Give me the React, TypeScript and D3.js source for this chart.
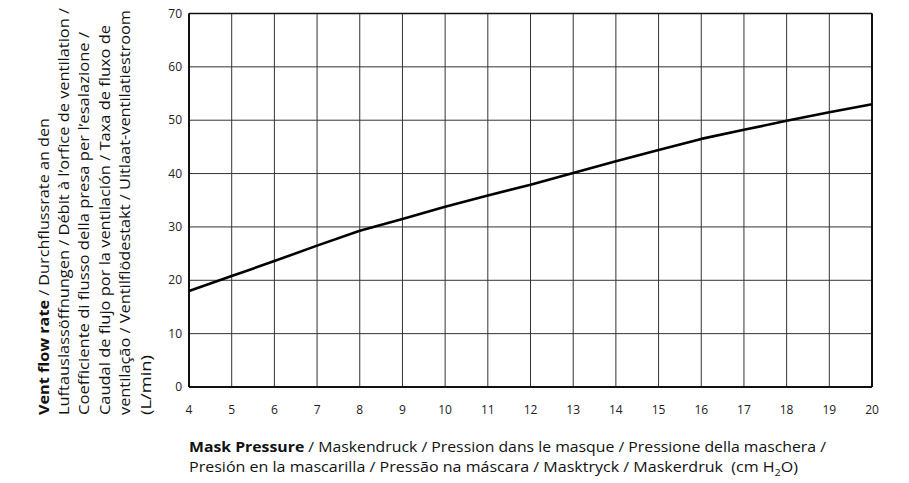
import React from "react";
import * as d3 from "d3";

const pressures = [4, 5, 6, 7, 8, 9, 10, 11, 12, 13, 14, 15, 16, 17, 18, 19, 20];
const flows = [18.0, 20.8, 23.6, 26.5, 29.3, 31.5, 33.8, 35.9, 37.9, 40.1, 42.3, 44.4, 46.5, 48.2, 49.9, 51.5, 53.0];
const xTicks = [4, 5, 6, 7, 8, 9, 10, 11, 12, 13, 14, 15, 16, 17, 18, 19, 20];
const yTicks = [0, 10, 20, 30, 40, 50, 60, 70];

const yTitleLines: { bold?: string; text: string }[] = [
  { bold: "Vent flow rate", text: " / Durchflussrate an den" },
  { text: "Luftauslassöffnungen / Débit à l\u2019orfice de ventilation /" },
  { text: "Coefficiente di flusso della presa per l\u2019esalazione /" },
  { text: "Caudal de flujo por la ventilación / Taxa de fluxo de" },
  { text: "ventilação / Ventilflödestakt / Uitlaat-ventilatiestroom" },
  { text: "(L/min)" },
];
const yTitleLengths = [297, 407, 383, 390, 405, 60];

const xTitleLine1Bold = "Mask Pressure";
const xTitleLine1 = " / Maskendruck / Pression dans le masque / Pressione della maschera /";
const xTitleLine2 = "Presión en la mascarilla / Pressão na máscara / Masktryck / Maskerdruk\u00a0\u00a0(cm H";

const W = 909;
const H = 483;
const left = 189;
const right = 872;
const top = 13.5;
const bottom = 387;

const font = "'Open Sans', Lato, sans-serif";

export default function App() {
  const x = d3.scaleLinear().domain([4, 20]).range([left, right]);
  const y = d3.scaleLinear().domain([0, 70]).range([bottom, top]);
  const line = d3
    .line<number>()
    .x((_, i) => x(pressures[i]))
    .y((d) => y(d));

  return (
    <svg
      width={W}
      height={H}
      style={{ position: "absolute", left: 0, top: 0, background: "#fff" }}
      fontFamily={font}
    >
      <rect x={0} y={0} width={W} height={H} fill="#fff" />
      {xTicks.map((t) => (
        <line key={"vx" + t} x1={x(t)} x2={x(t)} y1={top} y2={bottom} stroke="#333" strokeWidth={1} />
      ))}
      {yTicks.map((t) => (
        <line key={"hy" + t} x1={left} x2={right} y1={y(t)} y2={y(t)} stroke="#333" strokeWidth={1} />
      ))}
      <line x1={left} x2={right} y1={top} y2={top} stroke="#111" strokeWidth={1.5} />
      <line x1={left} x2={left} y1={top} y2={bottom} stroke="#111" strokeWidth={2} />
      <line x1={right} x2={right} y1={top} y2={bottom} stroke="#111" strokeWidth={2} />
      <line x1={left} x2={right} y1={bottom} y2={bottom} stroke="#111" strokeWidth={2} />
      <path d={line(flows) || ""} fill="none" stroke="#000" strokeWidth={2.6} strokeLinejoin="round" />
      {yTicks.map((t) => (
        <text key={"yl" + t} x={left - 7} y={y(t) + 4} textAnchor="end" fontSize={12} fill="#222">
          {t}
        </text>
      ))}
      {xTicks.map((t) => (
        <text key={"xl" + t} x={x(t)} y={bottom + 27} textAnchor="middle" fontSize={12} fill="#222">
          {t}
        </text>
      ))}
      <g transform="rotate(-90)">
        {yTitleLines.map((l, i) => (
          <text
            key={"yt" + i}
            x={-415}
            y={48.5 + i * 20.4}
            fontSize={14.5}
            fill="#111"
            textLength={yTitleLengths[i]}
            lengthAdjust="spacingAndGlyphs"
          >
            {l.bold ? <tspan fontWeight="bold">{l.bold}</tspan> : null}
            {l.text}
          </text>
        ))}
      </g>
      <text x={189} y={452} fontSize={14} fill="#111" textLength={637} lengthAdjust="spacingAndGlyphs">
        <tspan fontWeight="bold">{xTitleLine1Bold}</tspan>
        {xTitleLine1}
      </text>
      <text x={189} y={471.5} fontSize={14} fill="#111" textLength={609} lengthAdjust="spacingAndGlyphs">
        {xTitleLine2}
        <tspan fontSize={9.5} dy={4}>2</tspan>
        <tspan dy={-4}>O)</tspan>
      </text>
    </svg>
  );
}
